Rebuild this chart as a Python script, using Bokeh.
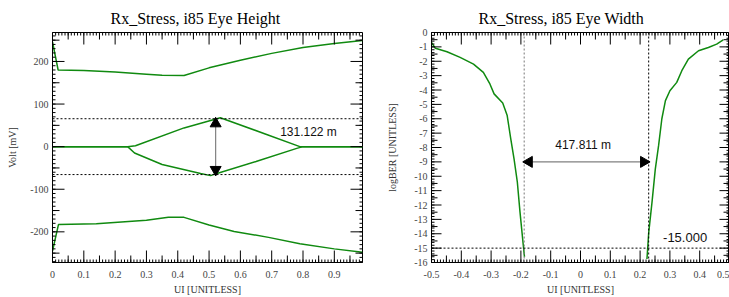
import math
from bokeh.plotting import figure
from bokeh.models import Range1d, FixedTicker, Label
from bokeh.layouts import row
from bokeh.embed import file_html
from bokeh.resources import INLINE

# ---------------- data: eye height (left) ----------------
upper_env_x = [0.0, 0.018, 0.10, 0.20, 0.30, 0.35, 0.42, 0.50, 0.60, 0.70, 0.80, 0.90, 0.99]
upper_env_y = [246, 180, 179, 175, 170, 167.5, 167, 185, 203, 219, 233, 242, 249]
lower_env_x = [0.0, 0.019, 0.14, 0.30, 0.37, 0.42, 0.50, 0.58, 0.69, 0.79, 0.90, 0.99]
lower_env_y = [-245, -183, -181, -173, -166, -166, -184, -199, -213, -228, -240, -248]
inner_up_x = [0.0, 0.24, 0.265, 0.42, 0.536, 0.686, 0.79, 0.99]
inner_up_y = [0, 0, 2, 44, 68, 28, 0, 0]
inner_lo_x = [0.0, 0.24, 0.262, 0.35, 0.473, 0.505, 0.52, 0.65, 0.78, 0.80, 0.99]
inner_lo_y = [0, 0, -15, -42, -63, -68, -64, -35, -4, 0, 0]
eye_height_mv = 131.122
eye_arrow_x = 0.521
eh_label = "131.122 m"

# ---------------- data: eye width (right) ----------------
ber_left_x = [-0.5, -0.487, -0.448, -0.404, -0.359, -0.326, -0.304, -0.29, -0.261, -0.246,
              -0.234, -0.223, -0.212, -0.203, -0.192, -0.188]
ber_left_y = [-0.69, -1.1, -1.34, -1.73, -2.2, -2.77, -3.58, -4.27, -4.9, -5.78,
              -7.4, -8.79, -10.4, -12.5, -14.8, -15.6]
ber_right_x = [0.223, 0.229, 0.24, 0.251, 0.262, 0.273, 0.285, 0.30, 0.323, 0.34,
               0.362, 0.396, 0.429, 0.457, 0.479]
ber_right_y = [-15.76, -13.9, -11.8, -9.5, -7.87, -6.0, -4.74, -4.05, -3.47, -2.66,
               -1.85, -1.27, -1.04, -0.81, -0.51]
eye_left_edge = -0.189
eye_right_edge = 0.2288
ber_target = -15.0
ew_arrow_y = -9.0
ew_label = "417.811 m"
ber_label = "-15.000"

# ---------------- ticks ----------------
eh_xticks = [0.0, 0.1, 0.2, 0.3, 0.4, 0.5, 0.6, 0.7, 0.8, 0.9, 1.0]
eh_xlabels = ["0", "0.1", "0.2", "0.3", "0.4", "0.5", "0.6", "0.7", "0.8", "0.9", "1"]
eh_yticks = [-200, -100, 0, 100, 200]
eh_ylabels = ["-200", "-100", "0", "100", "200"]
ew_xticks = [-0.5, -0.4, -0.3, -0.2, -0.1, 0.0, 0.1, 0.2, 0.3, 0.4, 0.5]
ew_xlabels = ["-0.5", "-0.4", "-0.3", "-0.2", "-0.1", "0", "0.1", "0.2", "0.3", "0.4", "0.5"]
ew_yticks = list(range(-16, 1))
ew_ylabels = [str(v) for v in ew_yticks]

GREEN = "#108a10"
TICK = "black"
SERIF = "Liberation Serif"
SANS = "Liberation Sans"
HEAD = 11          # arrow head marker size (px)


def steps(lo, hi, step):
    n = int(round((hi - lo) / step))
    return [round(lo + i * step, 6) for i in range(n + 1)]


def style_axis(ax, ticks, labels):
    ax.ticker = FixedTicker(ticks=ticks)
    ax.major_tick_in = 0
    ax.major_tick_out = 0
    ax.minor_tick_in = 0
    ax.minor_tick_out = 0
    ax.axis_line_color = "black"
    ax.major_label_overrides = {t: l for t, l in zip(ticks, labels)}
    ax.major_label_text_font = SERIF
    ax.major_label_text_font_size = "10px"
    ax.major_label_text_color = "#444444"
    ax.axis_label_text_font = SERIF
    ax.axis_label_text_font_size = "10px"
    ax.axis_label_text_font_style = "normal"
    ax.axis_label_text_color = "#333333"


def frame_ticks(p, xr, yr, xtiers, ytiers):
    # inward tick marks: rays of fixed screen length from each frame edge
    for vals, length in xtiers:
        n = len(vals)
        p.ray(x=vals, y=[yr.start] * n, length=length, length_units="screen",
              angle=math.pi / 2, line_color=TICK, line_width=1)
        p.ray(x=vals, y=[yr.end] * n, length=length, length_units="screen",
              angle=-math.pi / 2, line_color=TICK, line_width=1)
    for vals, length in ytiers:
        n = len(vals)
        p.ray(x=[xr.start] * n, y=vals, length=length, length_units="screen",
              angle=0, line_color=TICK, line_width=1)
        p.ray(x=[xr.end] * n, y=vals, length=length, length_units="screen",
              angle=math.pi, line_color=TICK, line_width=1)


def make_fig(title, w, h, xr, yr, bl, br, offset):
    p = figure(width=w, height=h, x_range=xr, y_range=yr, title=title,
               output_backend="svg", toolbar_location=None,
               min_border_left=bl, min_border_right=br, min_border_top=32, min_border_bottom=34)
    p.title.text_font = SERIF
    p.title.text_font_size = "16px"
    p.title.text_font_style = "normal"
    p.title.align = "left"
    p.title.offset = offset
    p.title.text_color = "black"
    p.title.standoff = 12
    p.xgrid.visible = False
    p.ygrid.visible = False
    p.outline_line_color = "black"
    return p


# ================= left: eye height =================
xr1, yr1 = Range1d(0, 0.99), Range1d(-272, 268)
p1 = make_fig("Rx_Stress, i85 Eye Height", 380, 297, xr1, yr1, 52, 18, 58)
style_axis(p1.xaxis[0], eh_xticks, eh_xlabels)
p1.xaxis[0].axis_label = "UI [UNITLESS]"
p1.xaxis[0].major_label_standoff = 8
p1.xaxis[0].axis_label_standoff = 3
style_axis(p1.yaxis[0], eh_yticks, eh_ylabels)
p1.yaxis[0].axis_label = "Volt [mV]"
p1.yaxis[0].major_label_standoff = 4
p1.yaxis[0].axis_label_standoff = 9

for xs, ys in [(upper_env_x, upper_env_y), (lower_env_x, lower_env_y),
               (inner_up_x, inner_up_y), (inner_lo_x, inner_lo_y)]:
    p1.line(xs, ys, line_color=GREEN, line_width=1.5)

frame_ticks(p1, xr1, yr1,
            [(eh_xticks, 12), (steps(0.05, 0.95, 0.1), 7), (steps(0, 1, 0.01), 3)],
            [(eh_yticks, 12), (steps(-250, 250, 100), 7), (steps(-270, 270, 10), 3)])

# dashed eye-height limits
half = eye_height_mv / 2
p1.segment(x0=[xr1.start, xr1.start], y0=[half, -half], x1=[xr1.end, xr1.end], y1=[half, -half],
           line_color="black", line_dash="2 2", line_width=1)
# double arrow (shaft + heads)
mv_per_px = (yr1.end - yr1.start) / 231
hoff = 0.45 * HEAD * mv_per_px
p1.segment(x0=[eye_arrow_x], y0=[-half + hoff], x1=[eye_arrow_x], y1=[half - hoff],
           line_color="#808080", line_width=1.2)
p1.scatter(x=[eye_arrow_x, eye_arrow_x], y=[half - hoff, -half + hoff], marker="triangle",
           size=HEAD, angle=[0, math.pi], fill_color="black", line_color="black")
p1.add_layout(Label(x=0.727, y=35, text=eh_label, text_font=SANS, text_font_size="12px",
                    text_baseline="middle", text_align="left", text_color="#111111"))

# ================= right: eye width =================
xr2, yr2 = Range1d(-0.5, 0.5), Range1d(-16, 0)
p2 = make_fig("Rx_Stress, i85 Eye Width", 349, 297, xr2, yr2, 51, 0, 47)
style_axis(p2.xaxis[0], ew_xticks, ew_xlabels)
p2.xaxis[0].axis_label = "UI [UNITLESS]"
p2.xaxis[0].major_label_standoff = 8
p2.xaxis[0].axis_label_standoff = 3
style_axis(p2.yaxis[0], ew_yticks, ew_ylabels)
p2.yaxis[0].axis_label = "logBER [UNITLESS]"
p2.yaxis[0].major_label_standoff = 4
p2.yaxis[0].axis_label_standoff = 13

p2.line(ber_left_x, ber_left_y, line_color=GREEN, line_width=1.5)
p2.line(ber_right_x, ber_right_y, line_color=GREEN, line_width=1.5)

frame_ticks(p2, xr2, yr2,
            [(ew_xticks, 12), (steps(-0.45, 0.45, 0.1), 7), (steps(-0.5, 0.5, 0.01), 3)],
            [(ew_yticks, 10), (steps(-15.5, -0.5, 1), 6), (steps(-16, 0, 0.2), 3)])

# dashed eye-width limits and BER target
p2.segment(x0=[eye_left_edge], y0=[yr2.start], x1=[eye_left_edge], y1=[yr2.end],
           line_color="#777777", line_dash="2 2", line_width=1)
p2.segment(x0=[eye_right_edge], y0=[yr2.start], x1=[eye_right_edge], y1=[yr2.end],
           line_color="black", line_dash="2 2", line_width=1)
p2.segment(x0=[xr2.start], y0=[ber_target], x1=[xr2.end], y1=[ber_target],
           line_color="black", line_dash="2 2", line_width=1)
# double arrow (shaft + heads)
ui_per_px = (xr2.end - xr2.start) / 298
woff = 0.45 * HEAD * ui_per_px
p2.segment(x0=[eye_left_edge + woff], y0=[ew_arrow_y], x1=[eye_right_edge - woff], y1=[ew_arrow_y],
           line_color="#808080", line_width=1.2)
p2.scatter(x=[eye_left_edge + woff, eye_right_edge - woff], y=[ew_arrow_y, ew_arrow_y],
           marker="triangle", size=HEAD, angle=[math.pi / 2, -math.pi / 2],
           fill_color="black", line_color="black")
p2.add_layout(Label(x=0.009, y=-7.85, text=ew_label, text_font=SANS, text_font_size="12px",
                    text_baseline="middle", text_align="center", text_color="#111111"))
p2.add_layout(Label(x=0.351, y=-14.25, text=ber_label, text_font=SANS, text_font_size="13px",
                    text_baseline="middle", text_align="center", text_color="#111111"))

layout = row(p1, p2)
open("out.html", "w").write(file_html(layout, INLINE))
